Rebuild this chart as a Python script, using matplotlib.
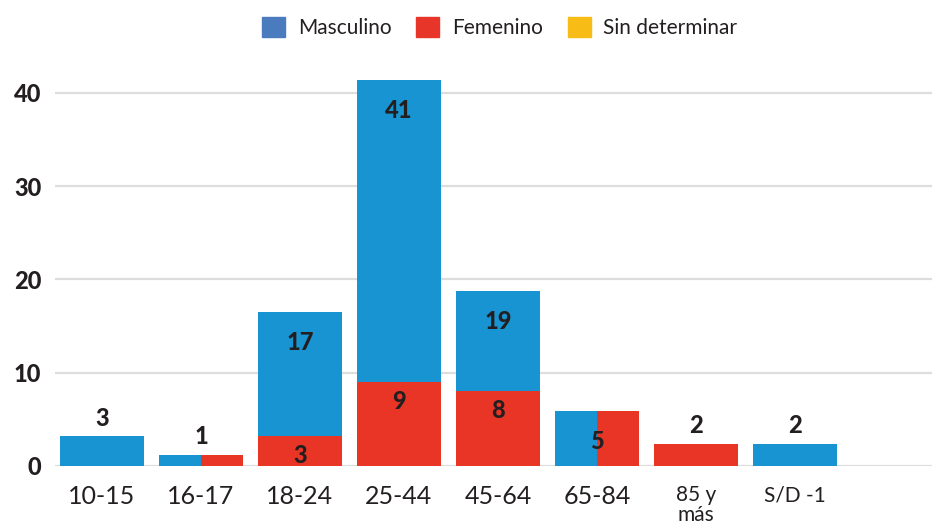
import numpy as np
import matplotlib
matplotlib.use('Agg')
import matplotlib.pyplot as plt
from matplotlib.patches import Patch

# Data
categories = ['10-15', '16-17', '18-24', '25-44', '45-64', '65-84', '85 y\nmás', 'S/D -1']
masculino = [3.2, 1.2, 13.3, 32.4, 10.7, 5.9, 0.0, 2.36]
femenino = [0.0, 1.2, 3.2, 9.0, 8.05, 5.9, 2.36, 0.0]
# categories where the two series are drawn side by side instead of stacked
side_by_side = ['16-17', '65-84']
total_labels = ['3', '1', '17', '41', '19', '5', '2', '2']
total_inside = [False, False, True, True, True, True, False, False]
fem_labels = ['', '', '3', '9', '8', '', '', '']
yticks = [0, 10, 20, 30, 40]

BLUE = '#1994d2'
RED = '#e93526'
TXT = '#231f20'

plt.rcParams['font.family'] = ['Lato', 'DejaVu Sans']

fig = plt.figure(figsize=(9.34, 5.25), dpi=100)
ax = fig.add_axes([0.0589, 0.1124, 0.939, 0.7554])

x = np.arange(len(categories))
w = 0.85
for i, cat in enumerate(categories):
    m, f = masculino[i], femenino[i]
    if cat in side_by_side:
        ax.bar(x[i] - w / 4, m, w / 2, color=BLUE, zorder=3)
        ax.bar(x[i] + w / 4, f, w / 2, color=RED, zorder=3)
        top = max(m, f)
    else:
        if f > 0:
            ax.bar(x[i], f, w, color=RED, zorder=3)
        if m > 0:
            ax.bar(x[i], m, w, bottom=f, color=BLUE, zorder=3)
        top = m + f
    if total_inside[i]:
        ax.annotate(total_labels[i], (x[i], top), xytext=(0, -22), textcoords='offset points',
                    ha='center', va='center', fontsize=17, fontweight='black', color=TXT, zorder=4)
    else:
        ax.annotate(total_labels[i], (x[i], top), xytext=(0, 13), textcoords='offset points',
                    ha='center', va='center', fontsize=17, fontweight='black', color=TXT, zorder=4)
    if fem_labels[i]:
        ax.annotate(fem_labels[i], (x[i], f), xytext=(0, -14), textcoords='offset points',
                    ha='center', va='center', fontsize=17, fontweight='black', color=TXT, zorder=4)

ax.set_xlim(-0.475, 8.385)
ax.set_ylim(0, 42.5)
ax.set_yticks(yticks)
ax.set_yticklabels([str(t) for t in yticks], fontsize=17, fontweight='black', color=TXT)
ax.set_xticks(x)
ax.set_xticklabels(categories, fontsize=18, color=TXT, linespacing=0.95)
for lab in ax.get_xticklabels()[6:]:
    lab.set_fontsize(15)
ax.tick_params(axis='both', length=0)
ax.tick_params(axis='x', pad=14)
ax.tick_params(axis='y', pad=10)
ax.yaxis.grid(True, color='#dddddd', linewidth=1.6, zorder=0)
for s in ax.spines.values():
    s.set_visible(False)
ax.set_axisbelow(True)

handles = [Patch(color='#4a7bbf', label='Masculino'),
           Patch(color='#e8352a', label='Femenino'),
           Patch(color='#f8bc16', label='Sin determinar')]
fig.legend(handles=handles, loc='upper center', bbox_to_anchor=(0.535, 1.003), ncol=3,
           frameon=False, fontsize=15, handlelength=1.1, handleheight=1.1,
           handletextpad=0.6, columnspacing=1.2, labelcolor=TXT)

fig.savefig('out.png', dpi=100)
